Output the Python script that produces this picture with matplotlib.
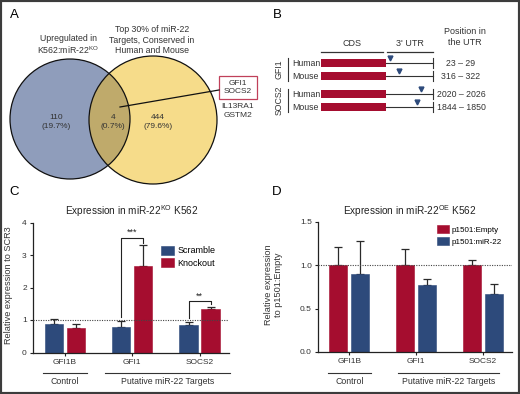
import numpy as np
import matplotlib
matplotlib.use('Agg')
import matplotlib.pyplot as plt
from matplotlib.patches import Circle, Rectangle
from matplotlib import transforms

plt.rcParams['font.family'] = ['Liberation Sans', 'DejaVu Sans']
plt.rcParams['mathtext.fontset'] = 'custom'
plt.rcParams['mathtext.rm'] = 'Liberation Sans'
plt.rcParams['mathtext.it'] = 'Liberation Sans:italic'

W, H = 520, 394

# ---- data ----
venn_counts = [110, 4, 444]
venn_pcts = ['19.7%', '0.7%', '79.6%']
venn_titles = ['Upregulated in\nK562:miR-22$^{\\mathrm{KO}}$',
               'Top 30% of miR-22\nTargets, Conserved in\nHuman and Mouse']
boxed_genes = ['GFI1', 'SOCS2']
other_genes = ['IL13RA1', 'GSTM2']

utr_genes = ['GFI1', 'SOCS2']
utr_species = ['Human', 'Mouse']
utr_sites = ['23 – 29', '316 – 322', '2020 – 2026', '1844 – 1850']
site_frac = [0.08, 0.28, 0.75, 0.66]   # site position along the drawn UTR

genes = ['GFI1B', 'GFI1', 'SOCS2']
groups = ['Control', 'Putative miR-22 Targets']

ko_scr = [0.88, 0.78, 0.86]
ko_scr_err = [0.16, 0.20, 0.07]
ko_ko = [0.76, 2.65, 1.34]
ko_ko_err = [0.12, 0.66, 0.07]
ko_sig = [(1, '***', 3.52), (2, '**', 1.57)]

oe_empty = [1.0, 1.0, 1.0]
oe_empty_err = [0.21, 0.19, 0.06]
oe_mir = [0.90, 0.77, 0.67]
oe_mir_err = [0.38, 0.07, 0.12]

navy = '#2d4a7b'
red = '#a50d2f'


def fx(x):
    return x / W


def fy(y):
    return 1 - y / H


fig = plt.figure(figsize=(W / 100, H / 100), dpi=100)

# background axes in pixel coordinates for panels A and B
bg = fig.add_axes([0, 0, 1, 1])
bg.set_xlim(0, W)
bg.set_ylim(H, 0)
bg.axis('off')

for lab, x, y in [('A', 14, 15), ('B', 277, 15), ('C', 14, 192), ('D', 277, 192)]:
    bg.text(x, y, lab, fontsize=9.5, ha='center', va='center')

# ---- A: Venn ----
c1 = Circle((70, 119), 60, facecolor='#8f9dbb', edgecolor='none')
c2 = Circle((153, 120), 64, facecolor='#f6dc8a', edgecolor='none')
bg.add_patch(c1)
bg.add_patch(c2)
c_mid = Circle((153, 120), 64, facecolor='#bfaa6b', edgecolor='none')
bg.add_patch(c_mid)
c_mid.set_clip_path(c1)
for c in [(70, 119, 60), (153, 120, 64)]:
    bg.add_patch(Circle(c[:2], c[2], facecolor='none', edgecolor='#111111', lw=0.9))

bg.text(68, 45, venn_titles[0], fontsize=6.3, ha='center', va='center', color='#333333',
        linespacing=1.15)
bg.text(152, 40, venn_titles[1], fontsize=6.3, ha='center', va='center', color='#333333',
        linespacing=1.15)
for x, n, p in zip([56, 113, 158], venn_counts, venn_pcts):
    bg.text(x, 122, '%d\n(%s)' % (n, p), fontsize=6, ha='center', va='center',
            color='#333333', linespacing=1.3)

bg.plot([120, 219], [107, 90], color='#111111', lw=0.9)
bg.add_patch(Rectangle((219, 76), 38, 23, facecolor='white', edgecolor='#c0405a', lw=0.9))
bg.text(238, 87.5, '\n'.join(boxed_genes), fontsize=6, ha='center', va='center',
        color='#333333', linespacing=1.25)
bg.text(238, 111, '\n'.join(other_genes), fontsize=6, ha='center', va='center',
        color='#333333', linespacing=1.25)

# ---- B: UTR schematic ----
cds_l, cds_r, utr_r = 321, 386, 433
bg.text(352, 43, 'CDS', fontsize=6.5, ha='center', va='center', color='#333333')
bg.text(410, 43, "3' UTR", fontsize=6.5, ha='center', va='center', color='#333333')
bg.text(465, 37, 'Position in\nthe UTR', fontsize=6.5, ha='center', va='center',
        color='#333333', linespacing=1.2)
bg.plot([cds_l, 383], [52, 52], color='#333333', lw=0.9)
bg.plot([387, utr_r], [52, 52], color='#333333', lw=0.9)

rows_y = [63, 76, 94, 107]
bg.barh(rows_y, cds_r - cds_l, left=cds_l, height=8.5, color=red)
for i, y in enumerate(rows_y):
    bg.plot([cds_r, utr_r], [y, y], color='#333333', lw=0.8)
    bg.plot([utr_r, utr_r], [y - 5, y + 5], color='#333333', lw=0.8)
    bg.plot(cds_r + site_frac[i] * (utr_r - cds_r), y - 5.5, marker='v', ms=3.5,
            color=navy, ls='none')
    bg.text(292, y, utr_species[i % 2], fontsize=6.3, ha='left', va='center', color='#333333')
    bg.text(461, y, utr_sites[i], fontsize=6.3, ha='center', va='center', color='#333333')
for g, (y0, y1) in zip(utr_genes, [(rows_y[0], rows_y[1]), (rows_y[2], rows_y[3])]):
    bg.plot([288, 288], [y0 - 5, y1 + 5], color='#333333', lw=0.8)
    bg.text(279, (y0 + y1) / 2, g, fontsize=6.3, rotation=90, ha='center', va='center',
            color='#333333')

# ---- bar panels ----
x = np.arange(len(genes))
bw = 0.267
off = 0.163


def bar_panel(box, first, first_err, second, second_err, c_first, c_second, lab_first,
              lab_second, ylim, yticks, yticklabels, group_spans):
    l, r, t, b = box
    ax = fig.add_axes([fx(l), fy(b), fx(r - l), (b - t) / H])
    ax.bar(x - off, first, bw, color=c_first, edgecolor=c_first, lw=0.4, label=lab_first,
           zorder=2)
    ax.bar(x + off, second, bw, color=c_second, edgecolor=c_second, lw=0.4,
           label=lab_second, zorder=2)
    ax.errorbar(x - off, first, yerr=[np.zeros(3), first_err], fmt='none', ecolor='#2a2a2a',
                elinewidth=0.9, capsize=3, capthick=0.9, zorder=1)
    ax.errorbar(x + off, second, yerr=[np.zeros(3), second_err], fmt='none',
                ecolor='#2a2a2a', elinewidth=0.9, capsize=3, capthick=0.9, zorder=1)
    ax.axhline(1.0, color='#444444', ls=(0, (1, 1.2)), lw=0.8, zorder=3)
    ax.set_xlim(-0.467, 2.437)
    ax.set_ylim(*ylim)
    ax.set_yticks(yticks)
    ax.set_yticklabels(yticklabels)
    ax.set_xticks(x)
    ax.set_xticklabels(genes)
    for s in ['top', 'right']:
        ax.spines[s].set_visible(False)
    for s in ['left', 'bottom']:
        ax.spines[s].set_linewidth(0.9)
        ax.spines[s].set_color('#222222')
    ax.tick_params(axis='both', labelsize=6, length=2.5, width=0.8, pad=2,
                   colors='#222222', labelcolor='#333333')
    ax.set_facecolor('none')
    trans = transforms.blended_transform_factory(ax.transData, ax.transAxes)
    for g, (a, c) in zip(groups, group_spans):
        ax.plot([a, c], [-0.158, -0.158], color='#333333', lw=0.8, transform=trans,
                clip_on=False)
        ax.text((a + c) / 2, -0.225, g, fontsize=6.3, ha='center', va='center',
                color='#333333', transform=trans)
    return ax


axC = bar_panel((33, 229, 222.5, 352.5), ko_scr, ko_scr_err, ko_ko, ko_ko_err, navy, red,
                'Scramble', 'Knockout', (0, 4), [0, 1, 2, 3, 4], ['0', '1', '2', '3', '4'],
                [(-0.32, 0.33), (0.6, 2.45)])
for g, stars, h in ko_sig:
    l_top = ko_scr[g] + ko_scr_err[g] + 0.12
    r_top = ko_ko[g] + ko_ko_err[g] + 0.07
    axC.plot([g - off, g - off, g + off, g + off], [l_top, h, h, r_top], color='#222222',
             lw=0.8)
    axC.text(g, h + 0.03, stars, fontsize=6.5, ha='center', va='bottom', color='#222222')
axC.legend(loc='upper left', bbox_to_anchor=(0.655, 0.82), frameon=False, fontsize=6.5,
           handlelength=1.4, handleheight=1.1, handletextpad=0.35, labelspacing=0.35,
           borderpad=0, borderaxespad=0)
axC.set_ylabel('Relative expression to SCR3', fontsize=6.6, color='#333333')
axC.yaxis.set_label_coords(-0.102, 0.52)
fig.text(fx(132), fy(211), 'Expression in miR-22$^{\\mathrm{KO}}$ K562', fontsize=7.2,
         ha='center', va='center', color='#222222')

axD = bar_panel((318, 512, 222, 352), oe_empty, oe_empty_err, oe_mir, oe_mir_err, red, navy,
                'p1501:Empty', 'p1501:miR-22', (0, 1.5), [0, 0.5, 1.0, 1.5],
                ['0.0', '0.5', '1.0', '1.5'], [(-0.32, 0.33), (0.73, 2.24)])
axD.legend(loc='upper left', bbox_to_anchor=(0.615, 0.975), frameon=False, fontsize=5.8,
           handlelength=1.4, handleheight=1.1, handletextpad=0.35, labelspacing=0.45,
           borderpad=0, borderaxespad=0)
axD.set_ylabel('Relative expression\nto p1501:Empty', fontsize=6.6, color='#333333',
               linespacing=1.1)
axD.yaxis.set_label_coords(-0.18, 0.515)
fig.text(fx(410), fy(211), 'Expression in miR-22$^{\\mathrm{OE}}$ K562', fontsize=7.2,
         ha='center', va='center', color='#222222')

# outer frame
fig.patches.append(Rectangle((0, 0), 1, 1, transform=fig.transFigure, fill=False,
                             edgecolor='#3c3c3c', lw=3, zorder=10))

fig.savefig('out.png', dpi=100)
